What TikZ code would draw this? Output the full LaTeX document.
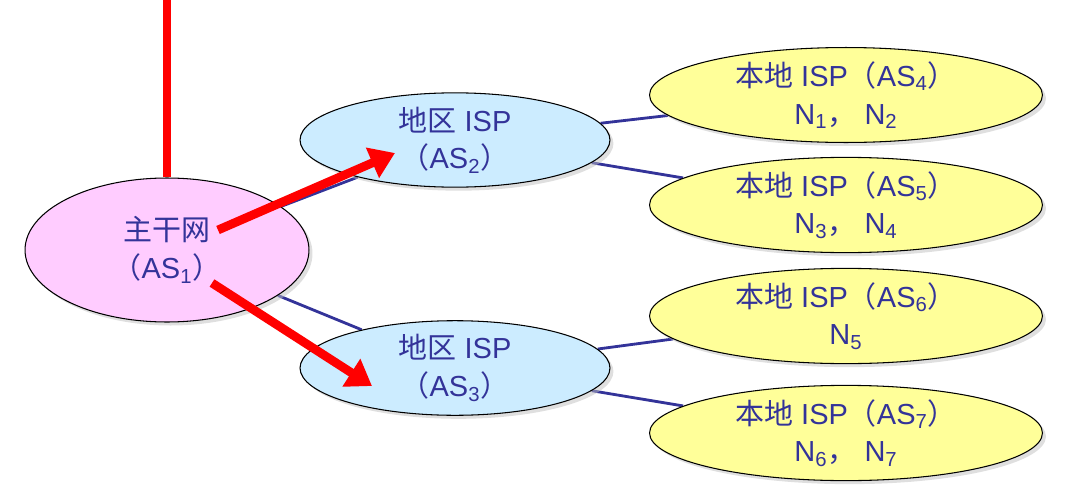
\documentclass[tikz,border=0pt]{standalone}
\usepackage{fontspec}
\setmainfont{Liberation Sans}
\newfontfamily\cjk{Noto Sans CJK SC}
\usetikzlibrary{shapes.geometric,arrows.meta,shadows}
\pgfdeclarelayer{bg}\pgfsetlayers{bg,main}
\definecolor{txt}{HTML}{333399}
\definecolor{pinkf}{HTML}{FFCCFF}
\definecolor{bluef}{HTML}{CCECFF}
\definecolor{yelf}{HTML}{FFFF99}
\newcommand{\subn}[1]{\textsubscript{#1}}
\tikzset{
 el/.style={ellipse,draw=black,line width=0.6pt,inner sep=0pt,
   drop shadow={shadow xshift=2pt,shadow yshift=-2pt,fill=black!25},
   text=txt,font=\fontsize{16.5}{21.5}\selectfont,align=center},
 link/.style={draw=txt,line width=1.6pt},
 redarr/.style={draw=red,line width=5pt,-{Triangle[length=14pt,width=18pt]}},
}
\begin{document}
\begin{tikzpicture}[x=0.02cm,y=-0.02cm]
\useasboundingbox (0,0) rectangle (1073,487);
\node[el,fill=pinkf,minimum width=5.68cm,minimum height=2.88cm] (as1) at (167,250) {{\cjk 主干网}\\{\cjk （}AS\subn{1}{\cjk ）}};
\node[el,fill=bluef,minimum width=6.2cm,minimum height=1.64cm] (as2) at (455,140) {{\cjk 地区} ISP\\{\cjk （}AS\subn{2}{\cjk ）}};
\node[el,fill=bluef,minimum width=6.2cm,minimum height=1.72cm] (as3) at (455,368) {{\cjk 地区} ISP\\{\cjk （}AS\subn{3}{\cjk ）}};
\node[el,fill=yelf,minimum width=7.86cm,minimum height=1.84cm] (as4) at (846,95) {{\cjk 本地} ISP{\cjk （}AS\subn{4}{\cjk ）}\\N\subn{1}{\cjk ，} N\subn{2}};
\node[el,fill=yelf,minimum width=7.86cm,minimum height=1.86cm] (as5) at (846,205) {{\cjk 本地} ISP{\cjk （}AS\subn{5}{\cjk ）}\\N\subn{3}{\cjk ，} N\subn{4}};
\node[el,fill=yelf,minimum width=7.86cm,minimum height=1.76cm] (as6) at (846,316) {{\cjk 本地} ISP{\cjk （}AS\subn{6}{\cjk ）}\\N\subn{5}};
\node[el,fill=yelf,minimum width=7.86cm,minimum height=1.8cm] (as7) at (846,433) {{\cjk 本地} ISP{\cjk （}AS\subn{7}{\cjk ）}\\N\subn{6}{\cjk ，} N\subn{7}};
\begin{pgfonlayer}{bg}
\draw[link] (as1) -- (as2);
\draw[link] (as1) -- (as3);
\draw[link] (as2) -- (as4);
\draw[link] (as2) -- (as5);
\draw[link] (as3) -- (as6);
\draw[link] (as3) -- (as7);
\end{pgfonlayer}
\coordinate (top) at (167,0);
\coordinate (a1s) at (218,230);
\coordinate (a1e) at (395,153);
\coordinate (a2s) at (212,283);
\coordinate (a2e) at (372,386);
\draw[draw=red,line width=5pt] (top) -- (as1.north);
\draw[redarr] (a1s) -- (a1e);
\draw[redarr] (a2s) -- (a2e);
\end{tikzpicture}
\end{document}
